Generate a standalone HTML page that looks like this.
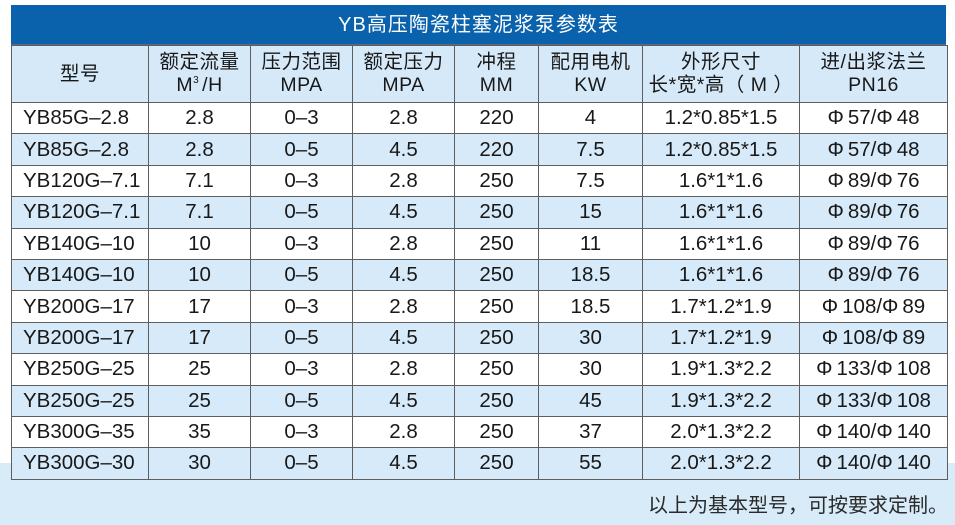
<!DOCTYPE html>
<html>
<head>
<meta charset="utf-8">
<style>
  html, body { margin:0; padding:0; }
  body { width:955px; height:525px; position:relative; overflow:hidden; background:#ffffff;
         font-family:"Liberation Sans","Noto Sans CJK SC",sans-serif; color:#181818; }
  .band { position:absolute; left:0; top:463px; width:955px; height:62px; background:#d8ebf9; }
  .title { position:absolute; left:11px; top:5px; width:935px; height:39px; background:#0a62ad;
           color:#fff; font-size:20px; line-height:41px; text-align:center; letter-spacing:1px;
           border-bottom:1px solid #5a6a80; }
  table { position:absolute; left:11px; top:45px; width:936px; border-collapse:collapse; table-layout:fixed; }
  td { border:1px solid #5e5e5e; padding:0; text-align:center; font-size:20.5px; white-space:nowrap; overflow:hidden; }
  tr.h td { height:56px; background:#d5e9f9; line-height:23px; letter-spacing:0.5px; font-size:19.5px; }
  tr.r td { height:30.4px; line-height:30px; }
  tr.w td { background:#ffffff; }
  tr.b td { background:#d6eaf9; }
  td.l { text-align:left; padding-left:11px; }
  sup { font-size:10px; vertical-align:8px; line-height:0; margin-right:3px; }
  .p { margin-right:4px; }
  .foot { position:absolute; right:7px; top:493px; font-size:20px; color:#2a2a2a; line-height:26px; }
</style>
</head>
<body>
<div class="band"></div>
<div class="title">YB高压陶瓷柱塞泥浆泵参数表</div>
<table>
  <colgroup>
    <col style="width:137px"><col style="width:102px"><col style="width:102px"><col style="width:102px">
    <col style="width:84px"><col style="width:104px"><col style="width:157px"><col style="width:148px">
  </colgroup>
  <tr class="h">
    <td>型号</td>
    <td>额定流量<br>M<sup>3</sup>/H</td>
    <td>压力范围<br>MPA</td>
    <td>额定压力<br>MPA</td>
    <td>冲程<br>MM</td>
    <td>配用电机<br>KW</td>
    <td>外形尺寸<br>长*宽*高（ M ）</td>
    <td>进/出浆法兰<br>PN16</td>
  </tr>
  <tr class="r w"><td class="l">YB85G–2.8</td><td>2.8</td><td>0–3</td><td>2.8</td><td>220</td><td>4</td><td>1.2*0.85*1.5</td><td><span class="p">Φ</span>57/<span class="p">Φ</span>48</td></tr>
  <tr class="r b"><td class="l">YB85G–2.8</td><td>2.8</td><td>0–5</td><td>4.5</td><td>220</td><td>7.5</td><td>1.2*0.85*1.5</td><td><span class="p">Φ</span>57/<span class="p">Φ</span>48</td></tr>
  <tr class="r w"><td class="l">YB120G–7.1</td><td>7.1</td><td>0–3</td><td>2.8</td><td>250</td><td>7.5</td><td>1.6*1*1.6</td><td><span class="p">Φ</span>89/<span class="p">Φ</span>76</td></tr>
  <tr class="r b"><td class="l">YB120G–7.1</td><td>7.1</td><td>0–5</td><td>4.5</td><td>250</td><td>15</td><td>1.6*1*1.6</td><td><span class="p">Φ</span>89/<span class="p">Φ</span>76</td></tr>
  <tr class="r w"><td class="l">YB140G–10</td><td>10</td><td>0–3</td><td>2.8</td><td>250</td><td>11</td><td>1.6*1*1.6</td><td><span class="p">Φ</span>89/<span class="p">Φ</span>76</td></tr>
  <tr class="r b"><td class="l">YB140G–10</td><td>10</td><td>0–5</td><td>4.5</td><td>250</td><td>18.5</td><td>1.6*1*1.6</td><td><span class="p">Φ</span>89/<span class="p">Φ</span>76</td></tr>
  <tr class="r w"><td class="l">YB200G–17</td><td>17</td><td>0–3</td><td>2.8</td><td>250</td><td>18.5</td><td>1.7*1.2*1.9</td><td><span class="p">Φ</span>108/<span class="p">Φ</span>89</td></tr>
  <tr class="r b"><td class="l">YB200G–17</td><td>17</td><td>0–5</td><td>4.5</td><td>250</td><td>30</td><td>1.7*1.2*1.9</td><td><span class="p">Φ</span>108/<span class="p">Φ</span>89</td></tr>
  <tr class="r w"><td class="l">YB250G–25</td><td>25</td><td>0–3</td><td>2.8</td><td>250</td><td>30</td><td>1.9*1.3*2.2</td><td><span class="p">Φ</span>133/<span class="p">Φ</span>108</td></tr>
  <tr class="r b"><td class="l">YB250G–25</td><td>25</td><td>0–5</td><td>4.5</td><td>250</td><td>45</td><td>1.9*1.3*2.2</td><td><span class="p">Φ</span>133/<span class="p">Φ</span>108</td></tr>
  <tr class="r w"><td class="l">YB300G–35</td><td>35</td><td>0–3</td><td>2.8</td><td>250</td><td>37</td><td>2.0*1.3*2.2</td><td><span class="p">Φ</span>140/<span class="p">Φ</span>140</td></tr>
  <tr class="r b"><td class="l">YB300G–30</td><td>30</td><td>0–5</td><td>4.5</td><td>250</td><td>55</td><td>2.0*1.3*2.2</td><td><span class="p">Φ</span>140/<span class="p">Φ</span>140</td></tr>
</table>
<div class="foot">以上为基本型号，可按要求定制。</div>
</body>
</html>
